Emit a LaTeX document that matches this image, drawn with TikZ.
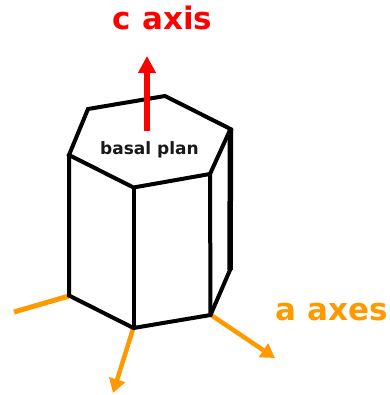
\documentclass[tikz,border=0pt]{standalone}
\usepackage{fontspec}
\setmainfont{DejaVu Sans}
\usetikzlibrary{arrows.meta}
\definecolor{axisorange}{RGB}{255,153,0}
\tikzset{
  edgeline/.style={black,line width=4pt,line join=miter,line cap=round},
  redaxis/.style={red,line width=5.5pt,-{Triangle[length=17pt,width=17pt]}},
  orangeaxis/.style={axisorange,line width=4.5pt,-{Triangle[length=14pt,width=16pt]}},
  orangeplain/.style={axisorange,line width=5pt},
  caxislabel/.style={text=red,font=\bfseries\fontsize{31}{34}\selectfont,inner sep=0pt},
  aaxislabel/.style={text=axisorange,font=\bfseries\fontsize{31}{34}\selectfont,inner sep=0pt},
  planlabel/.style={text=black!90,font=\bfseries\fontsize{17}{20}\selectfont,inner sep=0pt}
}
\begin{document}
\begin{tikzpicture}[x=1pt,y=-1pt]
\useasboundingbox (0,0) rectangle (389,395);
\coordinate (t1) at (88,109);
\coordinate (t2) at (165,96);
\coordinate (t3) at (230.5,129);
\coordinate (t4) at (210,174);
\coordinate (t5) at (133.5,187.5);
\coordinate (t6) at (69,155);
\coordinate (b6) at (69,295.5);
\coordinate (b5) at (133.5,328);
\coordinate (b4) at (210.5,315);
\coordinate (b3) at (230,270);
\coordinate (cs) at (147,131);
\coordinate (ce) at (147,56);
\coordinate (a1s) at (69,296);
\coordinate (a1e) at (14,312);
\coordinate (a2s) at (133,329);
\coordinate (a2e) at (113,393);
\coordinate (a3s) at (211,315);
\coordinate (a3e) at (275,358);
\draw[orangeplain] (a1s) -- (a1e);
\draw[orangeaxis] (a2s) -- (a2e);
\draw[orangeaxis] (a3s) -- (a3e);
\draw[edgeline] (t1) -- (t2) -- (t3) -- (t4) -- (t5) -- (t6) -- cycle;
\draw[edgeline] (t6) -- (b6) -- (b5) -- (b4) -- (b3);
\draw[edgeline] (t5) -- (b5);
\draw[edgeline] (t4) -- (b4);
\draw[edgeline,line width=5.5pt,line cap=butt] (t3) -- (b3);
\draw[redaxis] (cs) -- (ce);
\node[caxislabel] (clab) at (162.5,18) {c axis};
\node[aaxislabel] (alab) at (332,312) {a axes};
\node[planlabel] (plan) at (149.5,150) {basal plan};
\end{tikzpicture}
\end{document}
